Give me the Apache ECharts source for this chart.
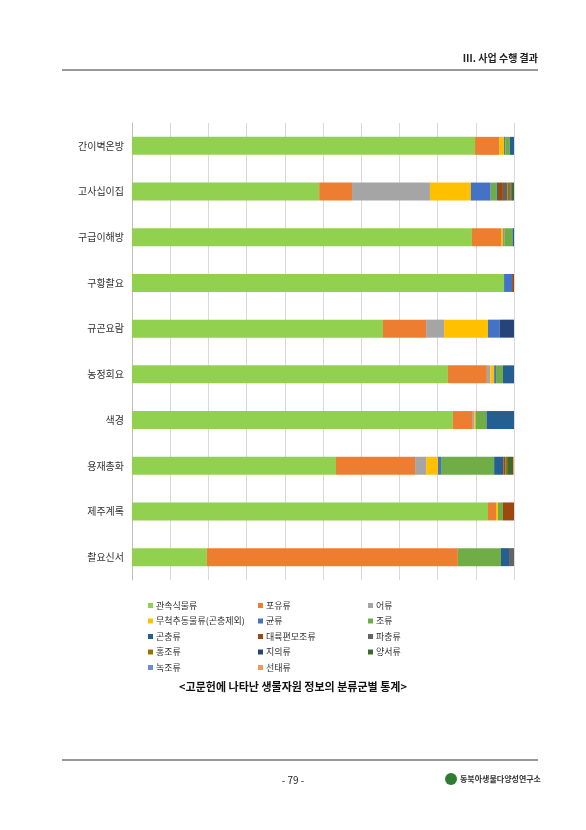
<!DOCTYPE html>
<html><head><meta charset="utf-8">
<script src="https://cdn.jsdelivr.net/npm/echarts@6/dist/echarts.min.js"></script>
<style>html,body{margin:0;padding:0;background:#fff}#c{width:586px;height:830px}</style>
</head><body><div id="c"></div>
<script>
const categories = ['간이벽온방','고사십이집','구급이해방','구황촬요','규곤요람','농정회요','색경','용재총화','제주계록','촬요신서'];
const seriesNames = ['관속식물류','포유류','어류','무척추동물류(곤충제외)','균류','조류','곤충류','대륙편모조류','파충류','홍조류','지의류','양서류','녹조류','선태류'];
const colors = ['#92D050','#ED7D31','#A5A5A5','#FFC000','#4472C4','#70AD47','#255E91','#9E480E','#636363','#997300','#264478','#43682B','#698ED0','#F1975A'];
const v관속식물류 = [89.8,49.0,89.0,97.4,65.7,82.7,84.0,53.4,93.2,19.6];
const v포유류 =     [6.4,8.6,7.6,0,11.3,10.2,5.2,20.7,2.1,65.7];
const v어류 =       [0,20.4,0,0,4.7,0.9,0.4,2.9,0,0];
const v무척추 =     [1.2,10.7,0.6,0,11.5,1.0,0.3,3.1,0.5,0];
const v균류 =       [0.3,5.2,0.3,2.1,3.1,0.5,0,0.8,0,0];
const v조류 =       [1.2,1.6,2.1,0,0,1.8,2.9,13.9,1.3,11.3];
const v곤충류 =     [1.1,0.3,0.4,0,0,2.9,7.2,2.4,0,2.1];
const v대륙편모조류 = [0,1.3,0,0.5,0,0,0,0.5,2.9,0];
const v파충류 =     [0,1.2,0,0,0,0,0,0,0,1.3];
const v홍조류 =     [0,0.8,0,0,0,0,0,0.5,0,0];
const v지의류 =     [0,0.3,0,0,3.7,0,0,0,0,0];
const v양서류 =     [0,0.6,0,0,0,0,0,1.6,0,0];
const v녹조류 =     [0,0,0,0,0,0,0,0,0,0];
const v선태류 =     [0,0,0,0,0,0,0,0.3,0,0];
const values = [v관속식물류,v포유류,v어류,v무척추,v균류,v조류,v곤충류,v대륙편모조류,v파충류,v홍조류,v지의류,v양서류,v녹조류,v선태류];
const legendCols = [[0,3,6,9,12],[1,4,7,10,13],[2,5,8,11]];
const legendX = [143,253,363];

const F = '"Noto Sans CJK KR", sans-serif';
const chart = echarts.init(document.getElementById('c'));
chart.setOption({
  animation:false,
  grid:{left:132,right:72,top:123,bottom:250},
  xAxis:{type:'value',min:0,max:100,interval:10,axisLabel:{show:false},
    splitLine:{lineStyle:{color:'#D9D9D9',width:1}},axisLine:{show:false},axisTick:{show:false}},
  yAxis:{type:'category',data:categories,inverse:true,
    axisLine:{lineStyle:{color:'#BFBFBF'}},axisTick:{show:false},
    axisLabel:{color:'#333',fontSize:10,fontFamily:F,margin:8}},
  legend: legendCols.map((col,i)=>({orient:'vertical',left:legendX[i],top:596,itemWidth:5,itemHeight:5,itemGap:6.5,
    icon:'rect',data:col.map(k=>seriesNames[k]),textStyle:{fontSize:9,color:'#333',fontFamily:F,padding:[0,0,0,-2]}})),
  series: seriesNames.map((n,i)=>({name:n,type:'bar',stack:'s',data:values[i],barWidth:18,
    itemStyle:{color:colors[i]}})),
  graphic:[
    {type:'text',right:48,top:53,style:{text:'Ⅲ. 사업 수행 결과',font:'bold 10px '+F,fill:'#222'}},
    {type:'line',shape:{x1:62,y1:70,x2:538,y2:70},style:{stroke:'#333',lineWidth:1}},
    {type:'text',left:'center',top:681,style:{text:'<고문헌에 나타난 생물자원 정보의 분류군별 통계>',font:'bold 11px '+F,fill:'#111'}},
    {type:'line',shape:{x1:62,y1:760,x2:538,y2:760},style:{stroke:'#333',lineWidth:1}},
    {type:'text',left:'center',top:775,style:{text:'- 79 -',font:'10px '+F,fill:'#222'}},
    {type:'text',left:460,top:775,style:{text:'동북아생물다양성연구소',font:'bold 8px '+F,fill:'#333'}},
    {type:'circle',shape:{cx:451,cy:779,r:6},style:{fill:'#2E7D32'}}
  ]
});
</script></body></html>
